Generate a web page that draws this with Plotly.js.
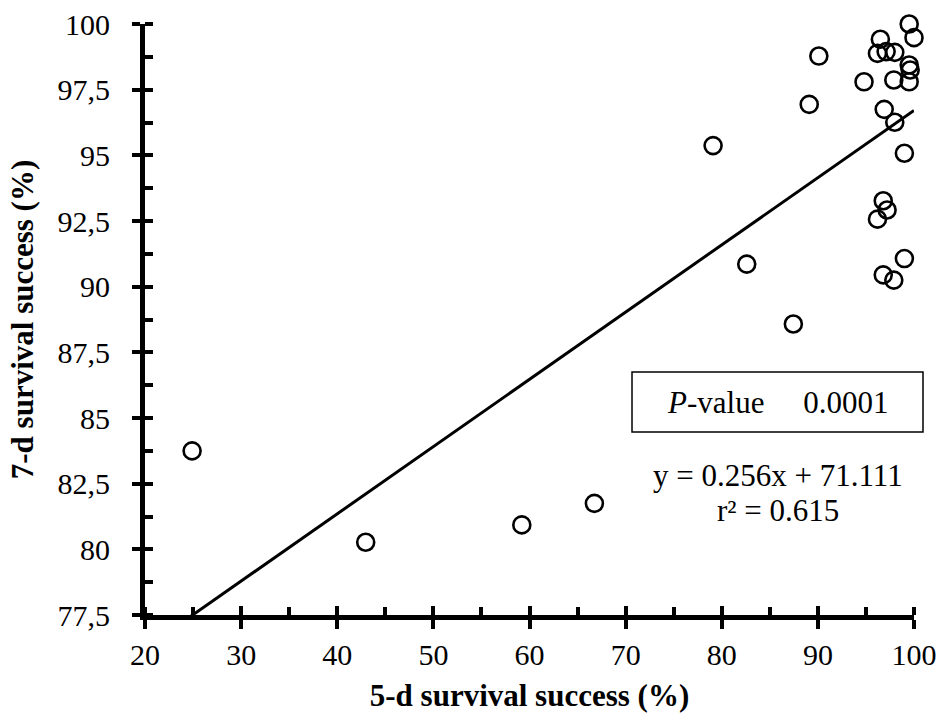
<!DOCTYPE html>
<html>
<head>
<meta charset="utf-8">
<script src="https://cdn.plot.ly/plotly-3.0.1.min.js"></script>
<style>html,body{margin:0;padding:0;background:#fff;}#chart{width:942px;height:713px;}</style>
</head>
<body>
<div id="chart"></div>
<script>
// Data
const survival5d = [24.9, 42.96, 59.2, 66.75, 79.1, 82.6, 87.45, 89.1, 90.1, 94.8,
  96.2, 96.5, 97.1, 98.0, 99.5, 100, 99.5, 99.6, 97.9, 99.5,
  96.9, 98.0, 99.0, 96.8, 97.2, 96.2, 99.0, 96.8, 97.9];
const survival7d = [83.75, 80.27, 80.93, 81.75, 95.37, 90.86, 88.58, 96.94, 98.78, 97.80,
  98.88, 99.42, 98.95, 98.92, 100, 99.48, 98.44, 98.25, 97.87, 97.80,
  96.75, 96.26, 95.08, 93.27, 92.92, 92.57, 91.07, 90.45, 90.25];
const fitSlope = 0.256;
const fitIntercept = 71.111;
const fitX = [20, 100];
const fitY = fitX.map(v => fitSlope * v + fitIntercept);
const xTickVals = [20, 30, 40, 50, 60, 70, 80, 90, 100];
const xTickText = ['20', '30', '40', '50', '60', '70', '80', '90', '100'];
const yTickVals = [77.5, 80, 82.5, 85, 87.5, 90, 92.5, 95, 97.5, 100];
const yTickText = ['77,5', '80', '82,5', '85', '87,5', '90', '92,5', '95', '97,5', '100'];
const pText = '<i>P</i>-value&nbsp;&nbsp;&nbsp;&nbsp;&nbsp;0.0001';
const eqText = 'y = 0.256x + 71.111';
const r2Text = 'r² = 0.615';

const FONT = 'Liberation Serif, Times New Roman, serif';

const traces = [
  {
    x: fitX, y: fitY, mode: 'lines', type: 'scatter',
    line: {color: '#000', width: 3}, showlegend: false, hoverinfo: 'skip'
  },
  {
    x: survival5d, y: survival7d, mode: 'markers', type: 'scatter',
    marker: {symbol: 'circle-open', size: 17, color: '#000', line: {color: '#000', width: 2.6}},
    cliponaxis: false, showlegend: false
  },
  {
    x: [], y: [], xaxis: 'x2', yaxis: 'y2', type: 'scatter', mode: 'markers', showlegend: false
  }
];

const layout = {
  width: 942, height: 713,
  margin: {l: 145, r: 28, t: 24, b: 98},
  paper_bgcolor: '#fff', plot_bgcolor: '#fff',
  font: {family: FONT, color: '#000', size: 30},
  showlegend: false,
  xaxis: {
    range: [20, 100], tickmode: 'array', tickvals: xTickVals, ticktext: xTickText,
    ticks: 'outside', ticklen: 9, tickwidth: 4, tickcolor: '#000',
    showline: true, linewidth: 5, linecolor: '#000',
    showgrid: false, zeroline: false,
    minor: {tickmode: 'linear', tick0: 20, dtick: 5, ticks: 'inside', ticklen: 8, tickwidth: 4, tickcolor: '#000', showgrid: false},
    tickfont: {family: FONT, size: 30, color: '#000'},
    ticklabelstandoff: 0,
    title: {text: '<b>5-d survival success (%)</b>', font: {family: FONT, size: 31, color: '#000'}, standoff: 20}
  },
  yaxis: {
    range: [77.5, 100], tickmode: 'array', tickvals: yTickVals, ticktext: yTickText,
    ticks: 'outside', ticklen: 8, tickwidth: 4, tickcolor: '#000',
    showline: true, linewidth: 5, linecolor: '#000',
    showgrid: false, zeroline: false,
    minor: {tickmode: 'linear', tick0: 77.5, dtick: 1.25, ticks: 'inside', ticklen: 8, tickwidth: 4, tickcolor: '#000', showgrid: false},
    tickfont: {family: FONT, size: 30, color: '#000'},
    ticklabelstandoff: 16,
    title: {text: '<b>7-d survival success (%)</b>', font: {family: FONT, size: 31, color: '#000'}, standoff: 16}
  },
  xaxis2: {
    overlaying: 'x', anchor: 'y2', side: 'bottom', range: [20, 100],
    tickmode: 'array', tickvals: xTickVals, ticks: 'inside', ticklen: 9, tickwidth: 4, tickcolor: '#000',
    showticklabels: false, showline: false, showgrid: false, zeroline: false
  },
  yaxis2: {
    overlaying: 'y', anchor: 'x2', side: 'left', range: [77.5, 100],
    tickmode: 'array', tickvals: yTickVals, ticks: 'inside', ticklen: 8, tickwidth: 4, tickcolor: '#000',
    showticklabels: false, showline: false, showgrid: false, zeroline: false
  },
  shapes: [
    {type: 'rect', xref: 'paper', yref: 'paper', x0: 0.6333, x1: 1.0117, y0: 0.3096, y1: 0.4112,
     line: {color: '#000', width: 1.5}, fillcolor: 'rgba(0,0,0,0)'}
  ],
  annotations: [
    {xref: 'paper', yref: 'paper', x: 0.8225, y: 0.3604, xanchor: 'center', yanchor: 'middle',
     text: pText, showarrow: false, font: {family: FONT, size: 31, color: '#000'}},
    {xref: 'paper', yref: 'paper', x: 0.8225, y: (615 - 475) / 591, xanchor: 'center', yanchor: 'middle',
     text: eqText, showarrow: false, font: {family: FONT, size: 31, color: '#000'}},
    {xref: 'paper', yref: 'paper', x: 0.8225, y: (615 - 510) / 591, xanchor: 'center', yanchor: 'middle',
     text: r2Text, showarrow: false, font: {family: FONT, size: 31, color: '#000'}}
  ]
};

Plotly.newPlot('chart', traces, layout, {staticPlot: true, displayModeBar: false});
</script>
</body>
</html>
